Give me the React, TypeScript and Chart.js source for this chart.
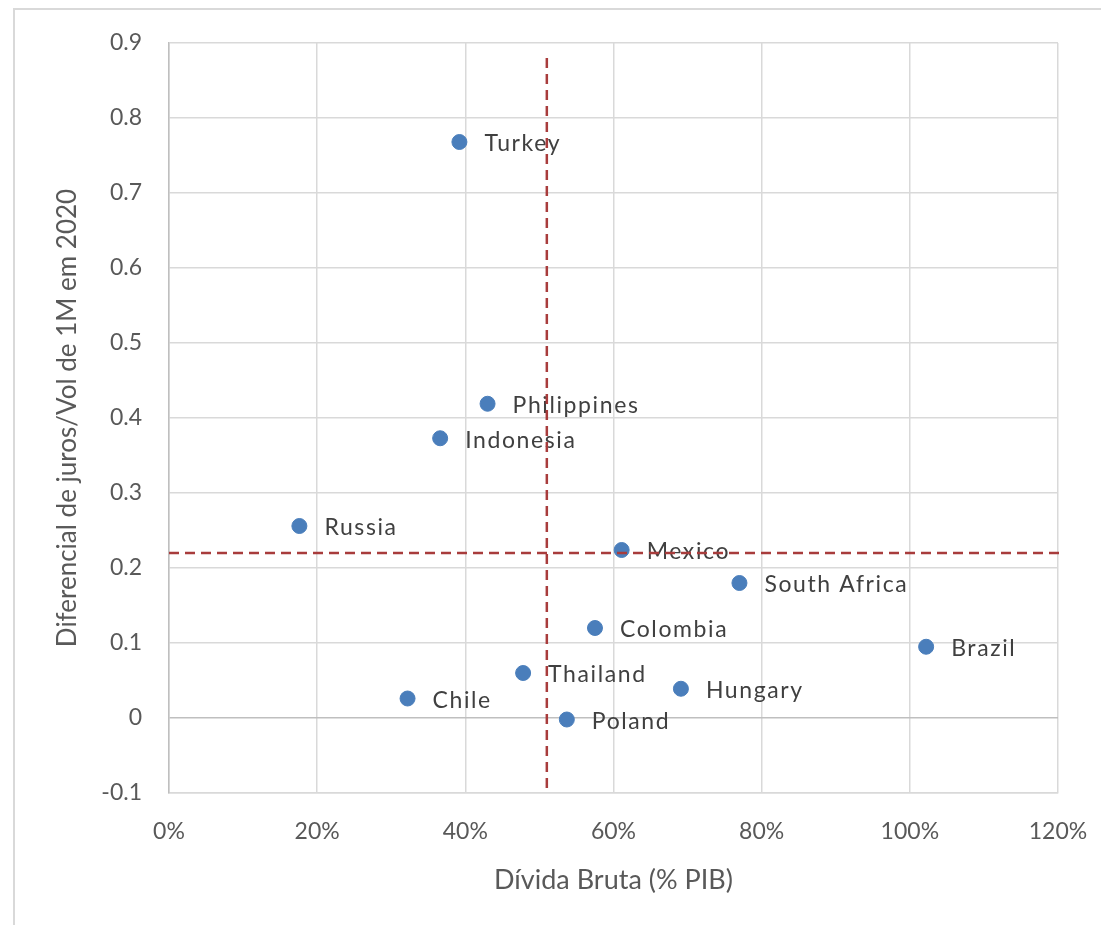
import React, { useEffect, useRef } from 'react';
import { Chart, registerables } from 'chart.js';

Chart.register(...registerables);

const countries = ['Turkey', 'Philippines', 'Indonesia', 'Russia', 'Mexico', 'South Africa', 'Colombia', 'Brazil', 'Thailand', 'Hungary', 'Chile', 'Poland'];
const debtToGdp = [0.392, 0.43, 0.366, 0.176, 0.611, 0.77, 0.575, 1.022, 0.478, 0.691, 0.322, 0.537];
const carryToVol = [0.768, 0.419, 0.373, 0.256, 0.224, 0.18, 0.12, 0.095, 0.06, 0.039, 0.026, -0.002];

const xAxisTitle = 'Dívida Bruta (% PIB)';
const yAxisTitle = 'Diferencial de juros/Vol de 1M em 2020';

// reference lines (dashed)
const refX = 0.51;
const refY = 0.22;
const refXSpan = [-0.1, 0.88];
const refYSpan = [0, 1.207];

const FONT = 'Lato';

const pointLabelPlugin = {
  id: 'pointLabels',
  afterDatasetsDraw(chart: any) {
    const ctx = chart.ctx;
    const meta = chart.getDatasetMeta(0);
    ctx.save();
    ctx.font = `23px ${FONT}`;
    ctx.fillStyle = '#404040';
    ctx.textBaseline = 'middle';
    ctx.textAlign = 'left';
    try { (ctx as any).letterSpacing = '1.6px'; } catch (e) {}
    meta.data.forEach((el: any, i: number) => {
      ctx.fillText(countries[i], el.x + 25, el.y + 2);
    });
    ctx.restore();
  },
};

const refLinePlugin = {
  id: 'refLines',
  afterDraw(chart: any) {
    const ctx = chart.ctx;
    const xs = chart.scales.x;
    const ys = chart.scales.y;
    ctx.save();
    ctx.strokeStyle = '#a83c3c';
    ctx.lineWidth = 2.5;
    ctx.setLineDash([10, 6]);
    ctx.beginPath();
    const vx = xs.getPixelForValue(refX);
    ctx.moveTo(vx, ys.getPixelForValue(refXSpan[1]));
    ctx.lineTo(vx, ys.getPixelForValue(refXSpan[0]));
    ctx.stroke();
    ctx.beginPath();
    const hy = ys.getPixelForValue(refY);
    ctx.moveTo(xs.getPixelForValue(refYSpan[0]), hy);
    ctx.lineTo(xs.getPixelForValue(refYSpan[1]), hy);
    ctx.stroke();
    ctx.restore();
  },
};

export default function App() {
  const ref = useRef<HTMLCanvasElement | null>(null);

  useEffect(() => {
    let chart: Chart | null = null;
    let cancelled = false;
    const make = () => {
      if (cancelled || !ref.current) return;
      chart = new Chart(ref.current, {
        type: 'scatter',
        data: {
          datasets: [
            {
              label: 'Países',
              data: debtToGdp.map((x, i) => ({ x, y: carryToVol[i] })),
              backgroundColor: '#4a7ebb',
              borderColor: '#4a7ebb',
              pointRadius: 7.5,
              pointHoverRadius: 7.5,
            },
          ],
        },
        options: {
          responsive: false,
          animation: false,
          layout: { padding: { top: 43, right: 43, left: 0, bottom: 0 } },
          plugins: {
            legend: { display: false },
            tooltip: { enabled: false },
          },
          scales: {
            x: {
              type: 'linear',
              min: 0,
              max: 1.2,
              ticks: {
                stepSize: 0.2,
                padding: 25,
                color: '#595959',
                font: { family: FONT, size: 23 },
                callback: (v: any) => `${Math.round(Number(v) * 100)}%`,
              },
              grid: { color: '#d9d9d9', lineWidth: 1.5, drawTicks: false },
              border: { color: '#d9d9d9', width: 1.5 },
              title: {
                display: true,
                text: xAxisTitle,
                color: '#595959',
                font: { family: FONT, size: 27 },
                padding: { top: 0, bottom: 29 },
              },
              afterFit: (scale: any) => {
                scale.height = 132;
                scale.paddingLeft = 0;
                scale.paddingRight = 0;
              },
            },
            y: {
              type: 'linear',
              min: -0.1,
              max: 0.9,
              ticks: {
                stepSize: 0.1,
                padding: 27,
                color: '#595959',
                font: { family: FONT, size: 23 },
                callback: (v: any) => `${Math.round(Number(v) * 10) / 10}`,
              },
              grid: {
                color: (c: any) => (c.tick && Math.abs(c.tick.value) < 1e-9 ? '#bfbfbf' : '#d9d9d9'),
                lineWidth: 1.5,
                drawTicks: false,
              },
              border: { color: '#bfbfbf', width: 1.5 },
              title: {
                display: true,
                text: yAxisTitle,
                color: '#595959',
                font: { family: FONT, size: 26 },
                padding: { top: 52, bottom: 0 },
              },
              afterFit: (scale: any) => {
                scale.width = 169;
                scale.paddingTop = 0;
                scale.paddingBottom = 0;
              },
            },
          },
        },
        plugins: [pointLabelPlugin, refLinePlugin],
      } as any);
    };
    const fontsApi = (document as any).fonts;
    if (fontsApi && fontsApi.load) {
      fontsApi.load(`22px ${FONT}`).then(make, make);
    } else {
      make();
    }
    return () => {
      cancelled = true;
      if (chart) chart.destroy();
    };
  }, []);

  return (
    <div style={{ position: 'fixed', left: 0, top: 0, width: 1101, height: 925, background: '#ffffff' }}>
      <div
        style={{
          position: 'absolute',
          left: 13,
          top: 8,
          width: 1200,
          height: 1000,
          borderTop: '2px solid #d9d9d9',
          borderLeft: '2px solid #d9d9d9',
        }}
      />
      <canvas ref={ref} width={1101} height={925} style={{ position: 'absolute', left: 0, top: 0 }} />
    </div>
  );
}
